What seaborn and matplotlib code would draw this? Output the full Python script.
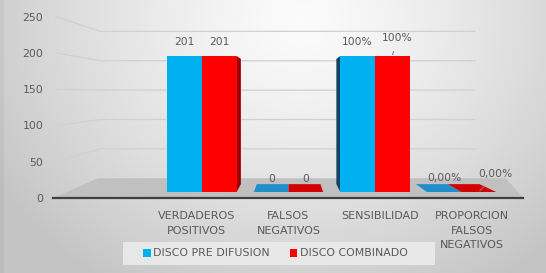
import numpy as np
import pandas as pd
import matplotlib
matplotlib.use("Agg")
import matplotlib.pyplot as plt
import seaborn as sns
from matplotlib.patches import Polygon, Patch, Rectangle

# ---------------- data ----------------
categories = ["VERDADEROS\nPOSITIVOS", "FALSOS\nNEGATIVOS", "SENSIBILIDAD",
              "PROPORCION\nFALSOS\nNEGATIVOS"]
series_names = ["DISCO PRE DIFUSION", "DISCO COMBINADO"]
pre_difusion = [201, 0, 201, 0]
combinado = [201, 0, 201, 0]
pre_labels = ["201", "0", "100%", "0,00%"]
comb_labels = ["201", "0", "100%", "0,00%"]
y_ticks = [0, 50, 100, 150, 200, 250]

# ---------------- style ----------------
colors = ["#00B0F0", "#FF0000"]
side_colors = ["#12435F", "#9A0000"]
top_colors = ["#1E8FC8", "#D20000"]
text_color = "#595959"
FONT = ["DejaVu Sans"]

sns.set_theme(style="white")
plt.rcParams["font.family"] = FONT

W, H = 546, 273
fig = plt.figure(figsize=(W / 100, H / 100), dpi=100)

# background axes in pixel coordinates (y down)
bg = fig.add_axes([0, 0, 1, 1], zorder=0)
bg.set_xlim(0, W)
bg.set_ylim(H, 0)
bg.axis("off")
yy, xx = np.mgrid[0:H, 0:W]
d = np.sqrt(((xx - 300) / 300.0) ** 2 + ((yy - 20) / 260.0) ** 2)
lvl = np.clip(0.985 - 0.17 * d ** 1.3, 0.77, 1.0)
lvl[:, :4] -= 0.03
bg.imshow(np.dstack([lvl, lvl, lvl]), extent=[0, W, H, 0], aspect="auto", zorder=0)

VP = np.array([290.0, 94.0])


def proj(p, f):
    p = np.asarray(p, float)
    return VP + (p - VP) * f


# front plane axes: carries y ticks, category labels and the base line
fa = fig.add_axes([53 / W, (H - 198) / H, 470 / W, 181.3 / H], zorder=2)
fa.set_facecolor("none")
fa.set_xlim(-1.567, 3.558)
fa.set_ylim(0, 250)
fa.set_yticks(y_ticks)
fa.set_yticklabels([str(v) for v in y_ticks])
fa.set_xticks(range(len(categories)))
fa.set_xticklabels(categories, linespacing=1.55)
for s in ["top", "right", "left"]:
    fa.spines[s].set_visible(False)
fa.spines["bottom"].set_color("#3F3F3F")
fa.spines["bottom"].set_linewidth(1.6)
fa.tick_params(axis="y", length=0, pad=7, labelsize=7.8, labelcolor=text_color)
fa.tick_params(axis="x", length=0, pad=9.5, labelsize=8.0, labelcolor=text_color)
fa.grid(False)

fig.canvas.draw()


def front_px(v):
    x, y = fa.transData.transform((fa.get_xlim()[0], v))
    return np.array([x, H - y])


# floor
front_l = front_px(0)
front_r = np.array([523.0, front_l[1]])
back_l = proj(front_l, 0.81)
floor = Polygon([front_l, back_l, [506, back_l[1]], front_r], closed=True,
                facecolor="#C0C0C0", edgecolor="none", zorder=1)
bg.add_patch(floor)

# gridlines (left wall + back wall)
for v in y_ticks[1:]:
    p0 = front_px(v) + np.array([3, 0])
    p1 = proj(p0, 0.81)
    bg.plot([p0[0], p1[0], 475], [p0[1], p1[1], p1[1]], color="#D0D0D0",
            lw=0.9, zorder=1)

# bars axes (mid-depth plane)
df = pd.DataFrame({
    "cat": categories * 2,
    "val": pre_difusion + combinado,
    "serie": [series_names[0]] * 4 + [series_names[1]] * 4,
})
ba = fig.add_axes([158.75 / W, (H - 192) / H, 346 / W, 169.25 / H], zorder=3)
sns.barplot(data=df, x="cat", y="val", hue="serie", palette=colors,
            saturation=1, width=0.8, ax=ba, legend=False, errorbar=None,
            edgecolor="none", linewidth=0)
ba.set_xlim(-0.5, 3.5)
ba.set_ylim(0, 250)
ba.set_facecolor("none")
ba.axis("off")
fig.canvas.draw()

bars = [p for p in ba.patches if p.get_width() > 0]
F = 0.92
for i, p in enumerate(bars):
    s = i // len(categories)
    x0, w, h = p.get_x(), p.get_width(), p.get_height()
    c = ba.transData.transform([(x0, 0), (x0 + w, 0), (x0 + w, h), (x0, h)])
    c[:, 1] = H - c[:, 1]
    BL, BR, TR, TL = c
    cx = (BL[0] + BR[0]) / 2
    if cx < VP[0]:
        face = [TR, BR, proj(BR, F), proj(TR, F)]
    else:
        face = [TL, BL, proj(BL, F), proj(TL, F)]
    bg.add_patch(Polygon(face, closed=True, facecolor=side_colors[s],
                         edgecolor="none", zorder=3))
    if TL[1] > VP[1]:
        top = [TL, TR, proj(TR, F), proj(TL, F)]
        bg.add_patch(Polygon(top, closed=True, facecolor=top_colors[s],
                             edgecolor="none", zorder=3))

# data labels
label_sets = [pre_labels, comb_labels]
special = {(1, 2): (5, 18), (1, 3): (17, 18)}
for i, p in enumerate(bars):
    s, k = divmod(i, len(categories))
    cx = p.get_x() + p.get_width() / 2
    h = p.get_height()
    off = special.get((s, k))
    if off is None:
        ba.annotate(label_sets[s][k], xy=(cx, h), xytext=(0, 13.5),
                    textcoords="offset pixels", ha="center", va="center",
                    fontsize=7.7, color=text_color, annotation_clip=False)
    else:
        ba.annotate(label_sets[s][k], xy=(cx, h), xytext=off,
                    textcoords="offset pixels", ha="center", va="center",
                    fontsize=7.7, color=text_color, annotation_clip=False,
                    arrowprops=dict(arrowstyle="-", color="#7F7F7F", lw=0.8,
                                    shrinkA=4, shrinkB=1))

# legend (box drawn as a panel behind it)
bg.add_patch(Rectangle((123, 242), 312, 23, facecolor="#EBEBEB",
                       edgecolor="none", alpha=0.9, zorder=2))
handles = [Patch(facecolor=c, edgecolor="none") for c in colors]
leg = fig.legend(handles, series_names, loc="center",
                 bbox_to_anchor=(275.5 / W, 1 - 253.5 / H), ncol=2, frameon=False,
                 fontsize=7.9, handlelength=0.7, handleheight=0.7,
                 handletextpad=0.25, columnspacing=1.8, borderpad=0.3,
                 labelcolor=text_color)

fig.savefig("out.png", dpi=100)
